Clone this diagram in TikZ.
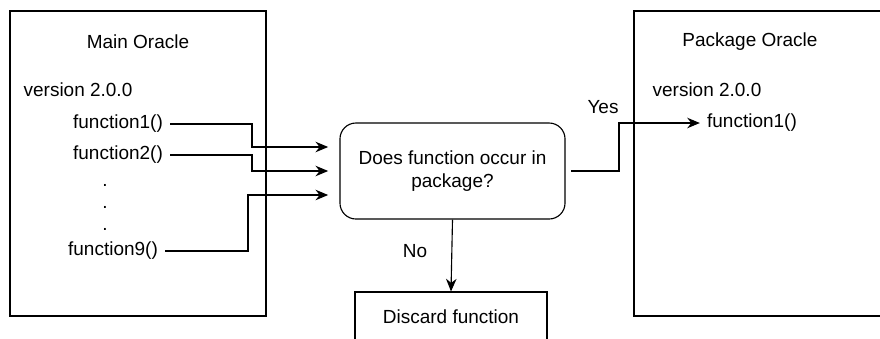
\documentclass[tikz,border=0pt]{standalone}
\usepackage{fontspec}
\setmainfont{Liberation Sans}
\usetikzlibrary{arrows.meta}
\usetikzlibrary{calc}

\tikzset{
  oracle/.style={draw, line width=0.8pt, minimum width=6.4cm, minimum height=7.625cm},
  txt/.style={inner sep=5pt, font=\fontsize{13.5}{16.3}\selectfont},
  stepbox/.style={txt, draw, line width=0.8pt},
  flow/.style={line width=0.8pt, -{Stealth[length=9pt,width=7.5pt]}},
}

\begin{document}
\begin{tikzpicture}[x=0.025cm, y=-0.025cm]
  \useasboundingbox (0,0) rectangle (880,338);
  \clip (0,0) rectangle (880,338);

  % Main oracle frame
  \node[oracle] (main) at (138,163.5) {};
  \node[txt] (maintitle) at (138,42) {Main Oracle};
  \node[txt] (mainver) at (78,90) {version 2.0.0};
  \node[txt] (f1) at (118,124) {function1()};
  \node[txt] (f2) at (118,155) {function2()};
  \node[txt] (dot1) at (105,185) {.};
  \node[txt] (dot2) at (105,207) {.};
  \node[txt] (dot3) at (105,229) {.};
  \node[txt] (f9) at (113,251) {function9()};

  % Package oracle frame
  \node[oracle] (pkg) at (762,163.5) {};
  \node[txt] (pkgtitle) at (750,42) {Package Oracle};
  \node[txt] (pkgver) at (707,90) {version 2.0.0};
  \node[txt] (pf1) at (752,123) {function1()};

  % Decision and discard
  \node[stepbox, rounded corners=0.4cm, minimum width=5.625cm, minimum height=2.4cm, align=center]
    (decision) at (452.5,171) {Does function occur in\\package?};
  \node[stepbox, minimum width=4.8cm, minimum height=1.25cm] (discard) at (451,317) {Discard function};

  % Functions into the decision
  \draw[flow, shorten >=8pt] (f1.east) -| (252,147) -- ($(decision.west)+(0,-24)$);
  \draw[flow, shorten >=8pt] (f2.east) -| (252,171) -- (decision.west);
  \draw[flow, shorten >=8pt] (f9.east) -| (248,195) -- ($(decision.west)+(0,24)$);

  % Outcomes
  \draw[flow, shorten <=4pt] (decision.east) -| (619,123) -- (pf1.west);
  \draw[flow] (decision.south) -- (discard.north);
  \node[txt] (yes) at (603,107) {Yes};
  \node[txt] (no) at (415,251) {No};
\end{tikzpicture}
\end{document}
